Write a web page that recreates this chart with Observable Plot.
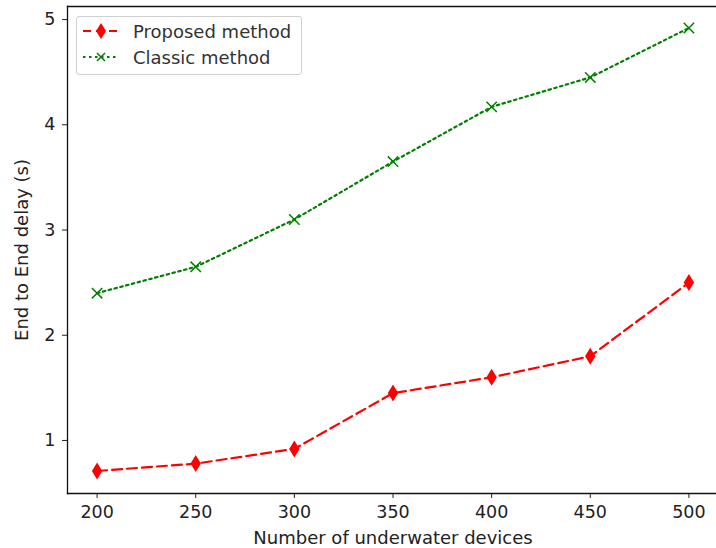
<!DOCTYPE html>
<html>
<head>
<meta charset="utf-8">
<script src="https://cdn.jsdelivr.net/npm/d3@7"></script>
<script src="https://cdn.jsdelivr.net/npm/@observablehq/plot@0.6"></script>
<style>
  html, body { margin: 0; padding: 0; background: #fff; overflow: hidden; }
  #wrap { position: relative; width: 716px; height: 548px; font-family: "DejaVu Sans", sans-serif; overflow: hidden; }
  #legend { position: absolute; left: 76px; top: 16px; width: 226px; height: 59px; border: 1px solid #d0d0d0; border-radius: 3px; background: rgba(255,255,255,0.85); box-sizing: border-box; }
  #legend .row { position: absolute; left: 0; height: 22px; display: flex; align-items: center; }
  #legend .row span { font-size: 18px; color: #333; margin-left: 13px; white-space: nowrap; }
</style>
</head>
<body>
<div id="wrap">
  <div id="chart"></div>
  <div id="legend">
    <div class="row" style="top:3px">
      <svg width="38" height="22" style="margin-left:5px"><line x1="1" y1="11" x2="37" y2="11" stroke="#ff0000" stroke-width="2.2" stroke-dasharray="8,5"/><path d="M19,3L24,11L19,19L14,11Z" fill="#ff0000"/></svg>
      <span>Proposed method</span>
    </div>
    <div class="row" style="top:29px">
      <svg width="38" height="22" style="margin-left:5px"><line x1="1" y1="11" x2="37" y2="11" stroke="#008000" stroke-width="2.2" stroke-dasharray="2.5,3.5"/><path d="M15,7L23,15M23,7L15,15" stroke="#008000" stroke-width="1.5"/></svg>
      <span>Classic method</span>
    </div>
  </div>
</div>
<script>
const devices = [200, 250, 300, 350, 400, 450, 500];
const proposed = [0.71, 0.78, 0.92, 1.45, 1.60, 1.80, 2.50];
const classic = [2.40, 2.65, 3.10, 3.65, 4.17, 4.45, 4.92];
const xTicks = [200, 250, 300, 350, 400, 450, 500];
const yTicks = [1, 2, 3, 4, 5];

const propData = devices.map((d, i) => ({x: d, y: proposed[i]}));
const classData = devices.map((d, i) => ({x: d, y: classic[i]}));

const thinDiamond = {
  draw(ctx) {
    ctx.moveTo(0, -8.5);
    ctx.lineTo(5.2, 0);
    ctx.lineTo(0, 8.5);
    ctx.lineTo(-5.2, 0);
    ctx.closePath();
  }
};

const chart = Plot.plot({
  width: 716,
  height: 548,
  marginLeft: 67,
  marginRight: -2,
  marginTop: 6,
  marginBottom: 55,
  style: {fontFamily: "DejaVu Sans, sans-serif", fontSize: "17.5px", color: "#222", background: "#fff", overflow: "hidden"},
  x: {domain: [185, 515]},
  y: {domain: [0.496, 5.124]},
  marks: [
    Plot.axisX({ticks: xTicks, tickSize: 5, tickPadding: 7, tickFormat: d => String(d), fontSize: 17.5,
      label: null}),
    Plot.axisX({ticks: [], label: "Number of underwater devices", labelAnchor: "center", labelArrow: "none", labelOffset: 50, fontSize: 18}),
    Plot.axisY({ticks: yTicks, tickSize: 5, tickPadding: 7, tickFormat: d => String(d), fontSize: 17.5,
      label: null}),
    Plot.axisY({ticks: [], label: "End to End delay (s)", labelAnchor: "center", labelArrow: "none", labelOffset: 52, fontSize: 18}),
    Plot.line(classData, {x: "x", y: "y", stroke: "#008000", strokeWidth: 2.2, strokeDasharray: "2.5,3.5"}),
    Plot.dot(classData, {x: "x", y: "y", symbol: "times", r: 4.8, stroke: "#008000", strokeWidth: 1.5}),
    Plot.line(propData, {x: "x", y: "y", stroke: "#ff0000", strokeWidth: 2.2, strokeDasharray: "10,5"}),
    Plot.dot(propData, {x: "x", y: "y", symbol: thinDiamond, fill: "#ff0000", stroke: "none"}),
    Plot.frame({anchor: "top", stroke: "#111", strokeWidth: 1.3}),
    Plot.frame({anchor: "left", stroke: "#111", strokeWidth: 1.3}),
    Plot.frame({anchor: "bottom", stroke: "#111", strokeWidth: 1.3})
  ]
});
document.getElementById("chart").appendChild(chart);
</script>
</body>
</html>
